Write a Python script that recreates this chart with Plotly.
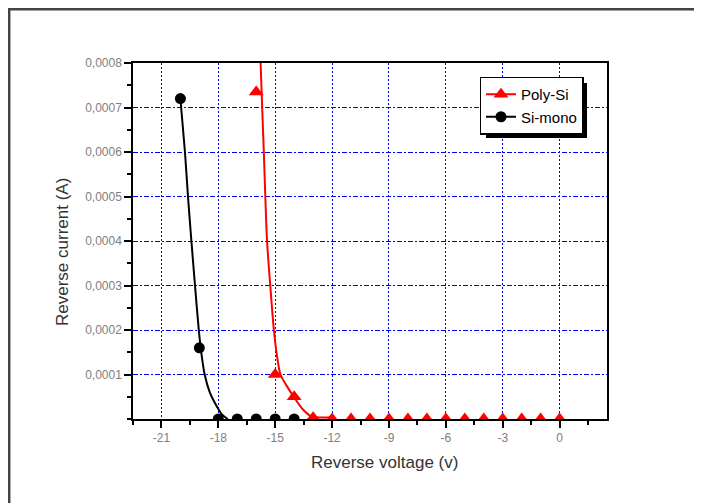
import plotly.graph_objects as go

# ---- data ----
poly_v = [-16, -15, -14, -13, -12, -11, -10, -9, -8, -7, -6, -5, -4, -3, -2, -1, 0]
poly_i = [0.000735, 0.0001, 0.00005, 0.000003, 0, 0, 0, 0, 0, 0, 0, 0, 0, 0, 0, 0, 0]

mono_v = [-20, -19, -18, -17, -16, -15, -14]
mono_i = [0.00072, 0.00016, 0, 0, 0, 0, 0]

# fitted curves as drawn in the reference
poly_fit_v = [-15.8, -15.77, -15.6, -15.43, -15.26, -15.07, -14.9, -14.72, -14.4, -14.07, -13.55, -13.1, -12.0]
poly_fit_i = [0.00085, 0.0008, 0.0006, 0.0004, 0.0003, 0.0002, 0.00014, 0.0001, 0.000075, 0.000053, 0.000022, 0.000006, 0.000004]

mono_fit_v = [-20.0, -19.76, -19.6, -19.42, -19.23, -19.03, -18.9, -18.72, -18.45, -18.1, -17.8, -17.5]
mono_fit_i = [0.00072, 0.0006, 0.0005, 0.0004, 0.0003, 0.0002, 0.00015, 0.0001, 0.00006, 0.00003, 0.00001, 0.0]

x_tick_vals = [-21, -18, -15, -12, -9, -6, -3, 0]
x_tick_text = ["-21", "-18", "-15", "-12", "-9", "-6", "-3", "0"]
y_tick_vals = [0.0001, 0.0002, 0.0003, 0.0004, 0.0005, 0.0006, 0.0007, 0.0008]
y_tick_text = ["0,0001", "0,0002", "0,0003", "0,0004", "0,0005", "0,0006", "0,0007", "0,0008"]

RED = "#FF0000"
BLACK = "#000000"
FONT = "Arial, Liberation Sans, sans-serif"

fig = go.Figure()

# fit lines
fig.add_trace(go.Scatter(x=poly_fit_v, y=poly_fit_i, mode="lines",
                         line=dict(color=RED, width=2, shape="spline", smoothing=0.8),
                         showlegend=False, hoverinfo="skip"))
fig.add_trace(go.Scatter(x=mono_fit_v, y=mono_fit_i, mode="lines",
                         line=dict(color=BLACK, width=2, shape="spline", smoothing=0.8),
                         showlegend=False, hoverinfo="skip"))
# markers
fig.add_trace(go.Scatter(x=poly_v, y=poly_i, mode="markers",
                         marker=dict(symbol="triangle-up", size=13, color=RED),
                         showlegend=False, cliponaxis=True))
fig.add_trace(go.Scatter(x=mono_v, y=mono_i, mode="markers",
                         marker=dict(symbol="circle", size=11, color=BLACK),
                         showlegend=False, cliponaxis=True))
# legend entries
fig.add_trace(go.Scatter(x=[None], y=[None], mode="lines+markers", name="Poly-Si",
                         line=dict(color=RED, width=2),
                         marker=dict(symbol="triangle-up", size=13, color=RED)))
fig.add_trace(go.Scatter(x=[None], y=[None], mode="lines+markers", name="Si-mono",
                         line=dict(color=BLACK, width=2),
                         marker=dict(symbol="circle", size=11, color=BLACK)))

# page has an 8px body margin; work in page pixels and convert
OFF = 8
W, H = 702 - OFF, 503 - OFF
PL, PT, PR, PB = 133, 63, 607, 419          # plot area in page pixels
L, T = PL - OFF, PT - OFF
pw, ph = PR - PL, PB - PT
R, B = W - L - pw, H - T - ph

def px(xp):
    return (xp - OFF - L) / pw

def py(yp):
    return (T + ph - (yp - OFF)) / ph

axis_common = dict(showline=True, linecolor=BLACK, linewidth=1.5, mirror=True,
                   ticks="outside", ticklen=7, tickwidth=1.5, tickcolor=BLACK,
                   tickfont=dict(family=FONT, size=12, color="#808080"),
                   zeroline=False, gridcolor="#0000FF", gridwidth=1)

fig.update_layout(
    width=W, height=H,
    margin=dict(l=L, r=R, t=T, b=B),
    paper_bgcolor="white", plot_bgcolor="white",
    font=dict(family=FONT),
    xaxis=dict(range=[-22.5, 2.5], tickmode="array", tickvals=x_tick_vals, ticktext=x_tick_text,
               griddash="2px,2px",
               minor=dict(tickmode="linear", tick0=0, dtick=1.5, ticks="outside",
                          ticklen=4, tickwidth=1.5, tickcolor=BLACK, showgrid=False),
               **axis_common),
    yaxis=dict(range=[0, 0.0008], tickmode="array", tickvals=y_tick_vals, ticktext=y_tick_text,
               griddash="5px,2px,2px,2px",
               minor=dict(tickmode="linear", tick0=0, dtick=0.00005, ticks="outside",
                          ticklen=4, tickwidth=1.5, tickcolor=BLACK, showgrid=False),
               **axis_common),
    legend=dict(x=px(531.5), y=py(105.5), xanchor="center", yanchor="middle",
                bgcolor="white", bordercolor=BLACK, borderwidth=1.5,
                font=dict(family=FONT, size=15, color=BLACK),
                tracegroupgap=0, itemsizing="trace"),
    showlegend=True,
)

# axis titles placed as in the reference
fig.add_annotation(text="Reverse voltage (v)", x=px(384), y=py(462), xref="paper", yref="paper",
                   showarrow=False, xanchor="center", yanchor="middle",
                   font=dict(family=FONT, size=17, color="#333333"))
fig.add_annotation(text="Reverse current (A)", x=px(62), y=py(252), xref="paper", yref="paper",
                   showarrow=False, xanchor="center", yanchor="middle", textangle=-90,
                   font=dict(family=FONT, size=17, color="#333333"))

# legend shadow (offset down-right behind the legend box)
fig.add_shape(type="rect", xref="paper", yref="paper",
              x0=px(486), x1=px(587), y0=py(138), y1=py(83),
              fillcolor=BLACK, line=dict(width=0), layer="above")
# outer frame (top and left edges visible)
fig.add_shape(type="rect", xref="paper", yref="paper",
              x0=px(9.2), x1=px(780), y0=py(600), y1=py(9.2),
              line=dict(color="#444444", width=2.5), fillcolor="rgba(0,0,0,0)", layer="below")

fig.write_html("out.html")
